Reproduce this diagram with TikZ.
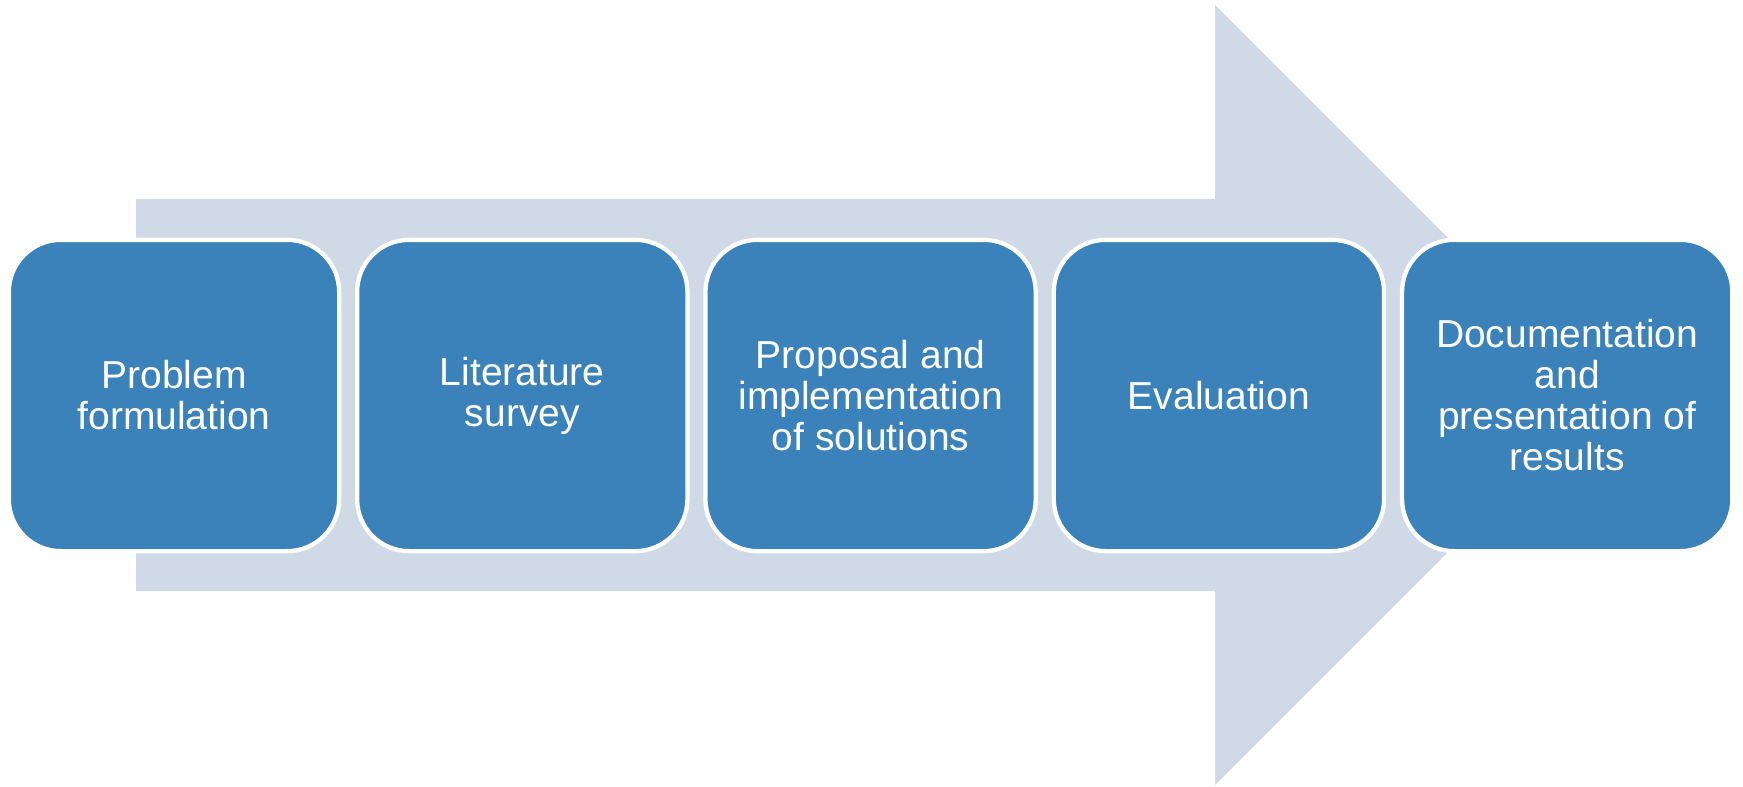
\documentclass[tikz,border=0pt]{standalone}
\usepackage{fontspec}
\setmainfont{Liberation Sans}
\usetikzlibrary{positioning}
\definecolor{stepblue}{RGB}{60,130,186}
\definecolor{flowgrey}{RGB}{208,217,230}
\tikzset{
stage/.style={
	draw=white, line width=2.15pt, fill=stepblue,
	rounded corners=26pt, minimum width=165.15pt, minimum height=155.65pt,
	inner sep=0pt, outer sep=0pt, align=center, text=white,
	font=\fontsize{19.5}{20.5}\selectfont}
}

\begin{document}
\begin{tikzpicture}[x=0.5pt, y=-0.5pt, node distance=9pt]
	\useasboundingbox (0,0) rectangle (1743,786);
	% broad arrow behind the steps
	\fill[flowgrey] (136,199) -- (1215,199) -- (1215,5) -- (1605,395)
		-- (1215,785) -- (1215,591) -- (136,591) -- cycle;
	\node[stage] (problem) at (174,395.5) {Problem\\formulation};
	\node[stage, right=of problem] (survey) {Literature\\survey};
	\node[stage, right=of survey] (proposal) {Proposal and\\implementation\\of solutions};
	\node[stage, right=of proposal] (evaluation) {Evaluation};
	\node[stage, right=of evaluation] (results) {Documentation\\and\\presentation of\\results};
\end{tikzpicture}
\end{document}
